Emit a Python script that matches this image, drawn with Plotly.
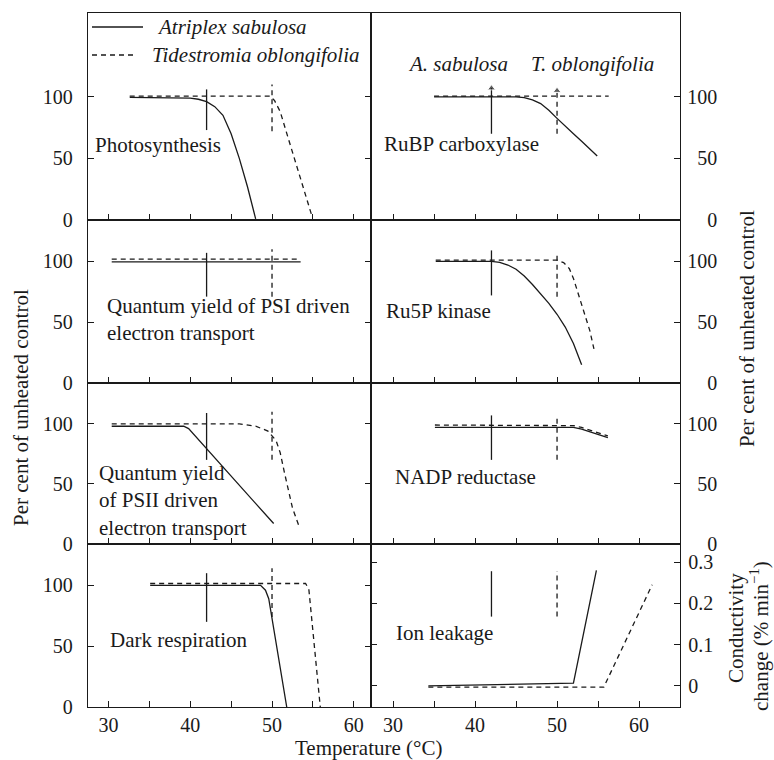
import plotly.graph_objects as go
from plotly.subplots import make_subplots

FONT = "Liberation Serif"
INK = "#1a1a1a"

species = ["Atriplex sabulosa", "Tidestromia oblongifolia"]
species_short = ["A. sabulosa", "T. oblongifolia"]
threshold_temp = [42, 50]

# ---- Photosynthesis
photo_A_x = [32.6, 36, 40, 41, 42, 43, 44, 45, 46, 47, 47.5, 48.0]
photo_A_y = [99.5, 99.5, 99, 98, 96, 92, 85, 70, 50, 27, 14, 1]
photo_T_x = [32.6, 49.8, 50.3, 51, 52, 53, 54, 54.8]
photo_T_y = [100.5, 100.5, 97, 88, 66, 44, 22, 5]
# ---- RuBP carboxylase
rubp_A_x = [35, 45, 46, 47, 48, 49, 50, 51, 52, 53, 54, 54.9]
rubp_A_y = [100, 100, 99.3, 97.5, 94.5, 89, 82.5, 76, 70, 64, 58, 52]
rubp_T_x = [35, 56.3]
rubp_T_y = [100.5, 100.5]
# ---- Quantum yield of PSI
psi_A_x = [30.4, 53.5]
psi_A_y = [99.5, 99.5]
psi_T_x = [30.4, 53.5]
psi_T_y = [101.8, 101.8]
# ---- Ru5P kinase
ru5p_A_x = [35.2, 42, 43, 44, 45, 46, 47, 48, 49, 50, 51, 52, 53]
ru5p_A_y = [100, 100, 99.2, 97, 93.5, 88, 81, 73.5, 65.5, 56.5, 46, 32.5, 15]
ru5p_T_x = [35.2, 50, 50.8, 51.5, 52, 53, 54, 54.5]
ru5p_T_y = [101, 101, 99, 94, 86, 65, 43, 28]
# ---- Quantum yield of PSII
psii_A_x = [30.4, 39.2, 39.8, 50.2]
psii_A_y = [98, 98, 96, 17]
psii_T_x = [30.4, 46, 48, 49.5, 50.5, 51, 51.5, 52, 52.5, 53.4]
psii_T_y = [100, 100, 98, 94, 86, 76, 60, 44, 30, 13]
# ---- NADP reductase
nadp_A_x = [35.1, 52, 53, 54, 55, 56.2]
nadp_A_y = [97, 97, 95.5, 93.5, 91, 88.5]
nadp_T_x = [35.1, 51, 52, 53, 54, 55, 56.2]
nadp_T_y = [99, 99, 98.5, 97, 95, 92.5, 90]
# ---- Dark respiration
dark_A_x = [35.1, 48.6, 49.2, 49.6, 51.8]
dark_A_y = [100, 100, 96, 89, 0]
dark_T_x = [35.1, 54.1, 54.5, 55.9]
dark_T_y = [101.5, 101.5, 97, 0]
# ---- Ion leakage (conductivity change, % min-1)
ion_A_x = [34.3, 52.0, 54.8]
ion_A_y = [0.0, 0.007, 0.28]
ion_T_x = [34.3, 55.7, 61.6]
ion_T_y = [-0.003, -0.003, 0.245]

# threshold marker extents (low, high) for A and T in each panel
mark_A = [[73, 106], [70, 107], [71, 107], [72, 109], [70, 109], [70, 107], [70, 110], [0.168, 0.278]]
mark_T = [[72, 110], [70, 105], [71, 110], [71, 107], [70, 110], [70, 107], [74, 114], [0.168, 0.278]]

panel_labels = ["Photosynthesis", "RuBP carboxylase",
                "Quantum yield of PSI driven<br>electron transport", "Ru5P kinase",
                "Quantum yield<br>of PSII driven<br>electron transport", "NADP reductase",
                "Dark respiration", "Ion leakage"]
label_pos = [(28.1, 61), (28.6, 62), (29.6, 52), (28.9, 59), (28.6, 36), (30.0, 56), (29.9, 55), (30.1, 0.128)]

series = [
    (photo_A_x, photo_A_y, photo_T_x, photo_T_y),
    (rubp_A_x, rubp_A_y, rubp_T_x, rubp_T_y),
    (psi_A_x, psi_A_y, psi_T_x, psi_T_y),
    (ru5p_A_x, ru5p_A_y, ru5p_T_x, ru5p_T_y),
    (psii_A_x, psii_A_y, psii_T_x, psii_T_y),
    (nadp_A_x, nadp_A_y, nadp_T_x, nadp_T_y),
    (dark_A_x, dark_A_y, dark_T_x, dark_T_y),
    (ion_A_x, ion_A_y, ion_T_x, ion_T_y),
]

x_ticks = [30, 35, 40, 45, 50, 55, 60]
x_ticktext = ["30", "", "40", "", "50", "", "60"]
y_ticks = [0, 50, 100]
cond_ticks = [0, 0.1, 0.2, 0.3]

DASH = "5px,4px"
LW = 1.3

# figure geometry (px)
W, H = 774, 760
ML, MR, MT, MB = 88, 94, 13, 53
PW, PH = W - ML - MR, H - MT - MB


def px_x(p):
    return (p - ML) / PW


def px_y(p):
    return (H - MB - p) / PH


fig = make_subplots(rows=4, cols=2, horizontal_spacing=0, vertical_spacing=0)

for i, (ax, ay, tx, ty) in enumerate(series):
    r, c = i // 2 + 1, i % 2 + 1
    fig.add_trace(go.Scatter(x=ax, y=ay, mode="lines", name=species[0],
                             legendgroup="A", line=dict(color=INK, width=LW),
                             showlegend=False), row=r, col=c)
    fig.add_trace(go.Scatter(x=tx, y=ty, mode="lines", name=species[1],
                             legendgroup="T", line=dict(color=INK, width=LW, dash=DASH),
                             showlegend=False), row=r, col=c)
    arrow = (i == 1)
    for k, (mk, dash) in enumerate([(mark_A[i], None), (mark_T[i], DASH)]):
        line = dict(color=INK, width=LW)
        if dash:
            line["dash"] = dash
        fig.add_trace(go.Scatter(
            x=[threshold_temp[k], threshold_temp[k]], y=mk,
            mode="lines+markers" if arrow else "lines",
            marker=dict(symbol="triangle-up", size=[0, 7], color=INK),
            line=line, showlegend=False, hoverinfo="skip"), row=r, col=c)
    lx, ly = label_pos[i]
    fig.add_annotation(x=lx, y=ly, text=panel_labels[i], showarrow=False,
                       xanchor="left", yanchor="middle", align="left",
                       font=dict(family=FONT, size=21, color=INK),
                       row=r, col=c)

# species labels above RuBP markers
fig.add_annotation(x=37.9, y=127, text=species_short[0], showarrow=False,
                   font=dict(family=FONT, size=21, color=INK, style="italic"), row=1, col=2)
fig.add_annotation(x=54.3, y=127, text=species_short[1], showarrow=False,
                   font=dict(family=FONT, size=21, color=INK, style="italic"), row=1, col=2)

# key (legend) in the top-left panel
key_rows = [(27, 143, 155, None), (55, 137, 150, DASH)]
for (ky, kx1, ktx, kdash), name in zip(key_rows, species):
    ln = dict(color=INK, width=LW)
    if kdash:
        ln["dash"] = kdash
    fig.add_shape(type="line", xref="paper", yref="paper",
                  x0=px_x(92), x1=px_x(kx1), y0=px_y(ky), y1=px_y(ky), line=ln)
    fig.add_annotation(xref="paper", yref="paper", x=px_x(ktx), y=px_y(ky), text=name,
                       showarrow=False, xanchor="left", yanchor="middle",
                       font=dict(family=FONT, size=21, color=INK, style="italic"))

col_dom = [[0, 0.478], [0.478, 1]]
row_dom = [[0.7017, 1], [0.4669, 0.7017], [0.2349, 0.4669], [0, 0.2349]]
x_range = [[27.5, 62.1], [27.3, 65.0]]

for i in range(8):
    r, c = i // 2, i % 2
    n = "" if i == 0 else str(i + 1)
    xa = dict(domain=col_dom[c], range=x_range[c], tickvals=x_ticks, ticktext=x_ticktext,
              ticks="inside", ticklen=6, tickwidth=1.2, tickcolor=INK,
              showline=True, mirror=True, linecolor=INK, linewidth=1.3,
              showgrid=False, zeroline=False, showticklabels=(r == 3),
              tickfont=dict(family=FONT, size=20, color=INK), ticklabelstandoff=0,
              fixedrange=True)
    if i == 7:
        ya = dict(range=[-0.051, 0.344], tickvals=cond_ticks, ticktext=["0", "0.1", "0.2", "0.3"],
                  side="right", mirror="allticks", ticklabelstandoff=3)
    else:
        ya = dict(range=[0, 168] if r == 0 else [0, 134], tickvals=y_ticks)
        if c == 0:
            ya.update(side="left", mirror="allticks", ticktext=["0", "50", "100"],
                      ticklabelstandoff=10)
        else:
            ya.update(side="right", mirror=True, ticktext=["\u2007\u20070", "\u200750", "100"],
                      ticklabelstandoff=2)
    ya.update(domain=row_dom[r], ticks="inside", ticklen=6, tickwidth=1.2, tickcolor=INK,
              showline=True, linecolor=INK, linewidth=1.3, showgrid=False, zeroline=False,
              tickfont=dict(family=FONT, size=20, color=INK), fixedrange=True)
    fig.layout["xaxis" + n].update(xa)
    fig.layout["yaxis" + n].update(ya)

# axis titles
TITLE_FONT = dict(family=FONT, size=21, color=INK)
fig.add_annotation(xref="paper", yref="paper", x=px_x(21), y=px_y(408), text="Per cent of unheated control",
                   textangle=-90, showarrow=False, xanchor="center", yanchor="middle", font=TITLE_FONT)
fig.add_annotation(xref="paper", yref="paper", x=px_x(747), y=px_y(329), text="Per cent of unheated control",
                   textangle=-90, showarrow=False, xanchor="center", yanchor="middle", font=TITLE_FONT)
fig.add_annotation(xref="paper", yref="paper", x=px_x(736), y=px_y(628),
                   text="Conductivity",
                   textangle=-90, showarrow=False, xanchor="center", yanchor="middle", font=TITLE_FONT)
fig.add_annotation(xref="paper", yref="paper", x=px_x(759), y=px_y(636),
                   text="change (% min<sup>\u22121</sup>)",
                   textangle=-90, showarrow=False, xanchor="center", yanchor="middle", font=TITLE_FONT)
fig.add_annotation(xref="paper", yref="paper", x=px_x(368), y=px_y(748), text="Temperature (\u00b0C)",
                   showarrow=False, xanchor="center", yanchor="middle", font=TITLE_FONT)

fig.update_layout(
    template="none",
    width=W, height=H,
    margin=dict(l=ML, r=MR, t=MT, b=MB),
    paper_bgcolor="white", plot_bgcolor="white",
    font=dict(family=FONT, size=20, color=INK),
    showlegend=False,
)

fig.write_html("out.html")
